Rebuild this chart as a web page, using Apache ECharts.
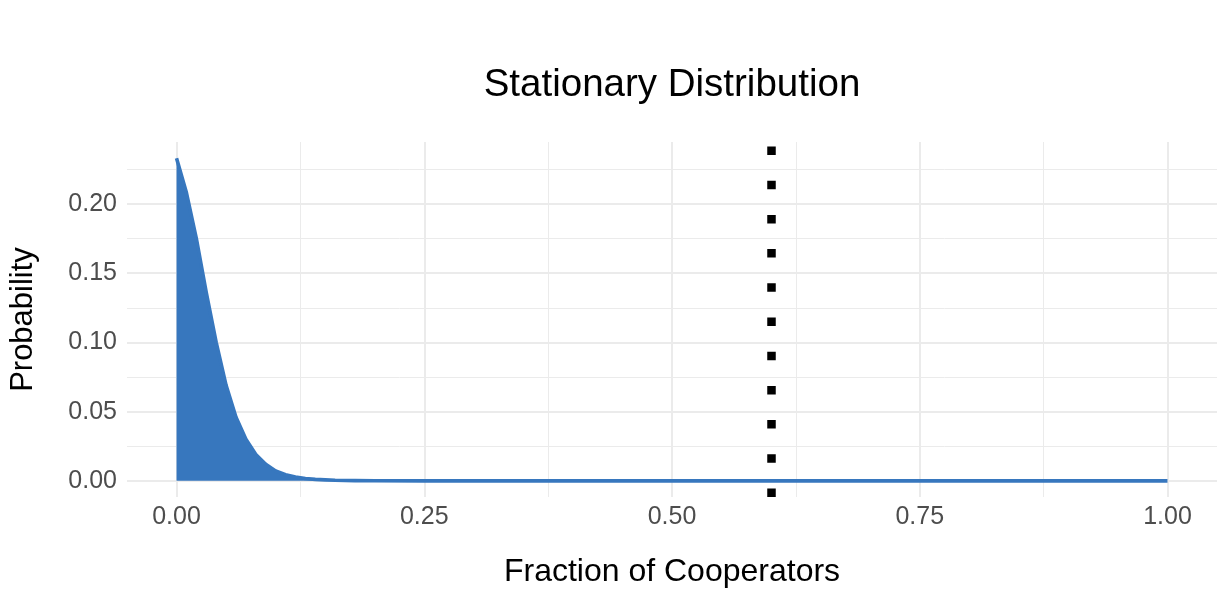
<!DOCTYPE html>
<html>
<head>
<meta charset="utf-8">
<script src="https://cdn.jsdelivr.net/npm/echarts@6/dist/echarts.min.js"></script>
<style>
  html, body { margin: 0; padding: 0; background: #ffffff; }
  #chart { width: 1228px; height: 600px; }
</style>
</head>
<body>
<div id="chart"></div>
<script>
// ---- data ----
var fractionOfCooperators = [0.00, 0.01, 0.02, 0.03, 0.04, 0.05, 0.06, 0.07, 0.08, 0.09, 0.10, 0.11, 0.12, 0.13, 0.14, 0.15, 0.16, 0.18, 0.20, 0.25, 0.50, 0.75, 1.00];
var probability = [0.233, 0.208, 0.175, 0.136, 0.100, 0.069, 0.046, 0.030, 0.019, 0.012, 0.0072, 0.0045, 0.0028, 0.0017, 0.0011, 0.0007, 0.0004, 0.0002, 0.0001, 0, 0, 0, 0];
var thresholdFraction = 0.6;

var xMajorTicks = [0, 0.25, 0.5, 0.75, 1];
var xMinorTicks = [0.125, 0.375, 0.625, 0.875];
var yMajorTicks = [0, 0.05, 0.10, 0.15, 0.20];
var yMinorTicks = [0.025, 0.075, 0.125, 0.175, 0.225];

var titleText = 'Stationary Distribution';
var xTitle = 'Fraction of Cooperators';
var yTitle = 'Probability';

// ---- ranges (ggplot-style 5% expansion) ----
var xMin = -0.05, xMax = 1.05;
var yMin = -0.01165, yMax = 0.2447;

var FONT = 'Liberation Sans, Arial, Helvetica, sans-serif';
var BLUE = '#3777BE';
var GRID = '#EBEBEB';

var points = fractionOfCooperators.map(function (x, i) { return [x, probability[i]]; });

function fmt(v) { return Number(v).toFixed(2); }

var chart = echarts.init(document.getElementById('chart'), null, { renderer: 'canvas' });

var option = {
  animation: false,
  backgroundColor: '#ffffff',
  title: {
    text: titleText,
    left: 672,
    textAlign: 'center',
    top: 66,
    padding: 0,
    textStyle: { fontFamily: FONT, fontSize: 38.5, fontWeight: 'normal', color: '#000000' }
  },
  grid: { left: 127, right: 11, top: 142, bottom: 103, containLabel: false },
  xAxis: [
    {
      type: 'value', min: xMin, max: xMax,
      name: xTitle, nameLocation: 'middle', nameGap: 59,
      nameTextStyle: { fontFamily: FONT, fontSize: 32, color: '#000000' },
      axisLine: { show: false },
      axisTick: { show: false, customValues: xMajorTicks },
      axisLabel: { customValues: xMajorTicks, formatter: fmt, margin: 8, fontFamily: FONT, fontSize: 25, color: '#4D4D4D' },
      splitLine: { show: true, lineStyle: { color: GRID, width: 2 } }
    },
    {
      type: 'value', min: xMin, max: xMax, position: 'bottom',
      axisLine: { show: false },
      axisTick: { show: false, customValues: xMinorTicks },
      axisLabel: { show: false },
      splitLine: { show: true, lineStyle: { color: GRID, width: 1 } }
    }
  ],
  yAxis: [
    {
      type: 'value', min: yMin, max: yMax,
      name: yTitle, nameLocation: 'middle', nameGap: 88,
      nameTextStyle: { fontFamily: FONT, fontSize: 31, color: '#000000' },
      axisLine: { show: false },
      axisTick: { show: false, customValues: yMajorTicks },
      axisLabel: { customValues: yMajorTicks, formatter: fmt, margin: 10, fontFamily: FONT, fontSize: 25, color: '#4D4D4D' },
      splitLine: { show: true, lineStyle: { color: GRID, width: 2 } }
    },
    {
      type: 'value', min: yMin, max: yMax, position: 'left',
      axisLine: { show: false },
      axisTick: { show: false, customValues: yMinorTicks },
      axisLabel: { show: false },
      splitLine: { show: true, lineStyle: { color: GRID, width: 1 } }
    }
  ],
  series: [
    {
      type: 'line',
      xAxisIndex: 0, yAxisIndex: 0,
      data: points,
      symbol: 'none',
      smooth: false,
      clip: false,
      lineStyle: { color: BLUE, width: 3.6, cap: 'butt', join: 'round' },
      areaStyle: { color: BLUE, opacity: 1 },
      markLine: {
        silent: true,
        symbol: ['none', 'none'],
        label: { show: false },
        lineStyle: { color: '#000000', width: 8.5, type: [8.5, 25.7], cap: 'butt', opacity: 1 },
        data: [[{ coord: [thresholdFraction, yMin] }, { coord: [thresholdFraction, yMax] }]]
      },
      z: 3
    }
  ]
};

chart.setOption(option);
</script>
</body>
</html>
